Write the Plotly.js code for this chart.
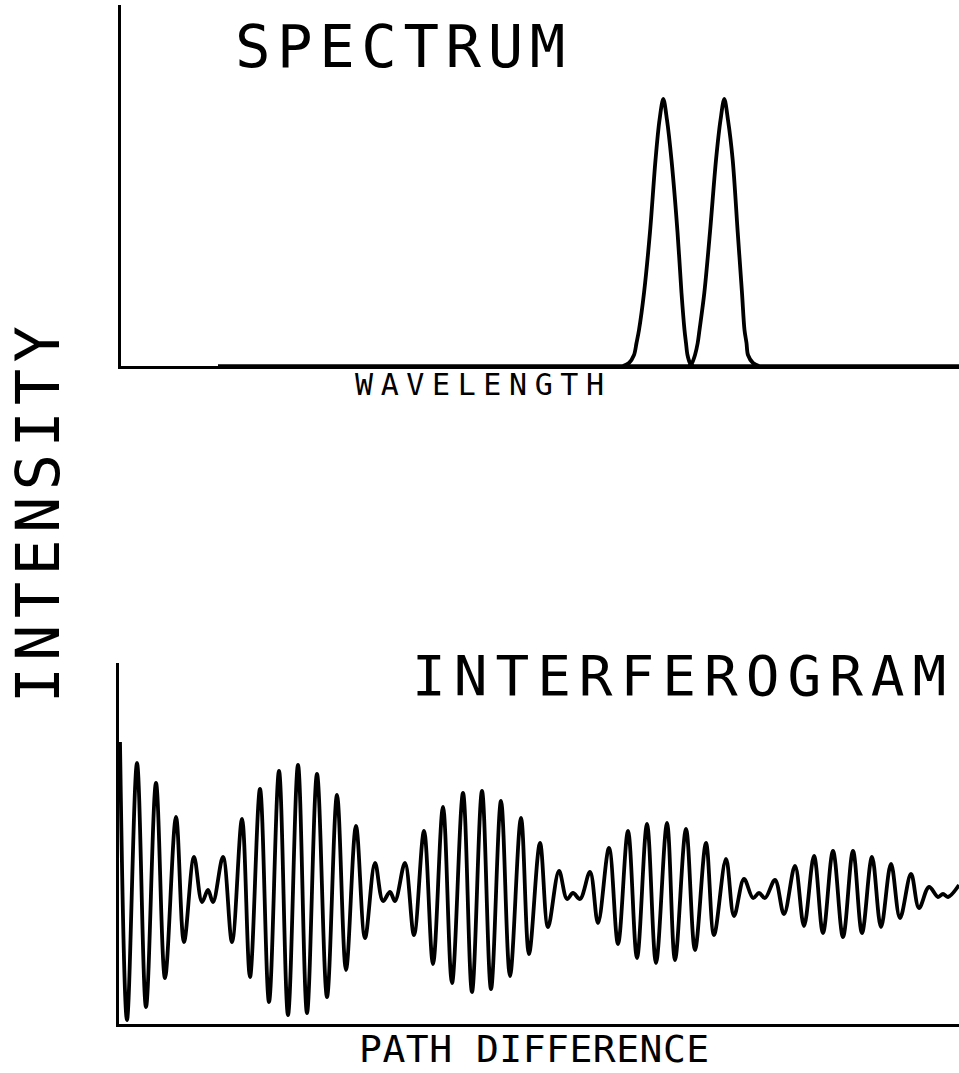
<!DOCTYPE html>
<html><head><meta charset="utf-8">
<script src="https://cdn.plot.ly/plotly-3.0.1.min.js"></script>
<style>html,body{margin:0;padding:0;background:#fff}</style>
</head><body>
<div id="chart" style="width:959px;height:1073px"></div>
<script>
// ---- data (arbitrary units) ----
const spectrumTitle = "SPECTRUM";
const spectrumXLabel = "WAVELENGTH";
const interferogramTitle = "INTERFEROGRAM";
const interferogramXLabel = "PATH DIFFERENCE";
const intensityLabel = "INTENSITY";

const baselineWavelength = [97, 838];
const baselineIntensity = [0, 0];

const peak1Wavelength = [502, 508, 513, 515.5, 518, 523, 529, 534.5, 538.5, 542.3, 546, 550.5, 556.5, 560.5, 563.5, 565, 566.5, 569, 572];
const peak1Intensity  = [0, 3, 11, 23, 36, 73, 134, 206, 246, 267, 246, 206, 134, 73, 36, 23, 11, 3, 0];

const peak2Wavelength = [568, 571, 574, 576.7, 578.5, 583.3, 589, 595, 599.5, 603.3, 607, 611.7, 616.7, 621, 623.5, 625.5, 627, 632, 638];
const peak2Intensity  = [0, 3, 11, 23, 36, 73, 134, 206, 246, 267, 246, 206, 134, 73, 36, 23, 11, 3, 0];

const pathDifference = [1, 8, 18, 27, 37, 46, 57, 65, 75, 83, 89, 94, 104, 113, 123, 131, 141, 150, 160, 169,
  179, 188, 198, 208, 218, 227, 237, 246, 256, 264, 271, 276, 286, 295, 305, 314, 324, 333, 344, 353,
  363, 372, 382, 391, 402, 410, 421, 429, 440, 448, 454, 461, 471, 479, 490, 499, 509, 518, 528, 537,
  548, 556, 567, 576, 587, 595, 607, 615, 625, 634, 640, 646, 656, 665, 676, 685, 695, 704, 714, 724,
  734, 743, 753, 762, 772, 781, 792, 800, 810, 819, 824, 829, 840];
const interferogramIntensity = [282, 4, 261, 17, 241, 46, 207, 82, 167, 122, 134, 122, 167, 82, 205, 47, 235, 22, 253, 9,
  259, 11, 250, 27, 229, 54, 198, 86, 161, 123, 132, 123, 161, 89, 193, 60, 217, 41, 231, 32,
  233, 35, 223, 48, 206, 70, 181, 97, 153, 125, 131, 125, 152, 101, 176, 80, 193, 66, 200, 61,
  201, 64, 195, 74, 181, 89, 165, 108, 145, 126, 131, 126, 144, 110, 158, 98, 168, 91, 173, 87,
  173, 91, 167, 97, 160, 106, 150, 116, 137, 127, 130, 127, 139];

// ---- chart ----
const W = 959, H = 1073;
const px = v => v / W;
const py = v => 1 - v / H;
const lineStyle = {color: '#000', width: 3.8, shape: 'spline', smoothing: 0.9};

const data = [
  {x: baselineWavelength, y: baselineIntensity, xaxis: 'x', yaxis: 'y', mode: 'lines', line: {color: '#000', width: 3.5}},
  {x: peak1Wavelength, y: peak1Intensity, xaxis: 'x', yaxis: 'y', mode: 'lines', line: lineStyle},
  {x: peak2Wavelength, y: peak2Intensity, xaxis: 'x', yaxis: 'y', mode: 'lines', line: lineStyle},
  {x: pathDifference, y: interferogramIntensity, xaxis: 'x2', yaxis: 'y2', mode: 'lines',
   line: {color: '#000', width: 3.8, shape: 'spline', smoothing: 1}}
];

const ax = {showline: true, linecolor: '#000', linewidth: 3, showgrid: false, zeroline: false,
            showticklabels: false, ticks: '', fixedrange: true};
const font = 'DejaVu Sans Mono, monospace';

const layout = {
  width: W, height: H, margin: {l: 0, r: 0, t: 0, b: 0, pad: 0},
  paper_bgcolor: '#fff', plot_bgcolor: '#fff', showlegend: false,
  xaxis: Object.assign({}, ax, {domain: [px(121), 1], range: [0, 838], anchor: 'y'}),
  yaxis: Object.assign({}, ax, {domain: [py(366), py(5)], range: [0, 361], anchor: 'x'}),
  xaxis2: Object.assign({}, ax, {domain: [px(119), 1], range: [0, 840], anchor: 'y2'}),
  yaxis2: Object.assign({}, ax, {domain: [py(1024), py(663)], range: [0, 361], anchor: 'x2'}),
  annotations: [
    {text: spectrumTitle, xref: 'paper', yref: 'paper', x: px(233), y: py(46.5), xanchor: 'left', yanchor: 'middle',
     align: 'left', showarrow: false, font: {family: font, size: 59, color: '#000'}},
    {text: spectrumXLabel, xref: 'paper', yref: 'paper', x: px(353), y: py(384.5), xanchor: 'left', yanchor: 'middle',
     align: 'left', showarrow: false, font: {family: font, size: 30, color: '#000'}},
    {text: interferogramTitle, xref: 'paper', yref: 'paper', x: px(410), y: py(675.5), xanchor: 'left', yanchor: 'middle',
     align: 'left', showarrow: false, font: {family: font, size: 56, color: '#000'}},
    {text: interferogramXLabel, xref: 'paper', yref: 'paper', x: px(357), y: py(1049), xanchor: 'left', yanchor: 'middle',
     align: 'left', showarrow: false, font: {family: font, size: 38, color: '#000'}},
    {text: intensityLabel, xref: 'paper', yref: 'paper', x: px(38), y: py(512), xanchor: 'center', yanchor: 'middle',
     textangle: -90, showarrow: false, font: {family: font, size: 60, color: '#000'}}
  ]
};

const spacing = ['6.6px', '7.6px', '8.0px', '0.5px', '6.5px'];
Plotly.newPlot('chart', data, layout, {staticPlot: true, displayModeBar: false}).then(gd => {
  gd.querySelectorAll('g.annotation').forEach(g => {
    const i = +g.getAttribute('data-index');
    const t = g.querySelector('text.annotation-text');
    if (t) t.style.letterSpacing = spacing[i];
  });
});
</script>
</body></html>
